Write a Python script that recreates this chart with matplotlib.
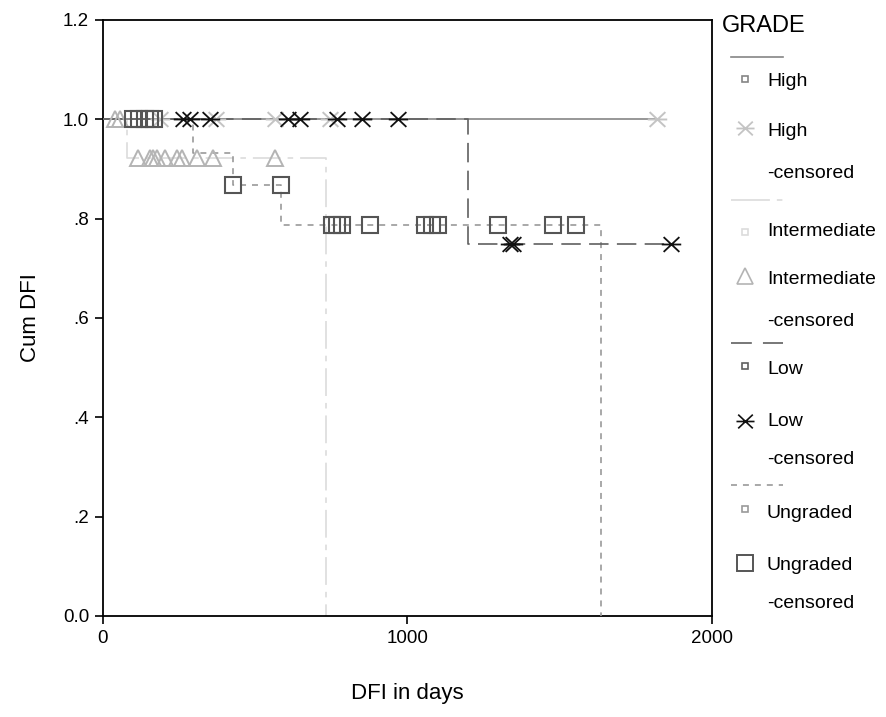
import numpy as np
import matplotlib
matplotlib.use("Agg")
import matplotlib.pyplot as plt
from matplotlib.path import Path

plt.rcParams['font.family'] = ['Liberation Sans', 'DejaVu Sans']
plt.rcParams['lines.scale_dashes'] = False

# ---- data (days, cumulative DFI) ----
groups = ['High', 'Intermediate', 'Low', 'Ungraded']

high_t = [0, 1820]
high_s = [1.0, 1.0]
high_cens_t = [188, 370, 566, 747, 1820]
high_cens_s = [1.0, 1.0, 1.0, 1.0, 1.0]

inter_t = [0, 79, 733, 733]
inter_s = [1.0, 0.923, 0.0, 0.0]
inter_cens_t = [40, 55, 115, 155, 164, 178, 204, 243, 260, 309, 362, 566]
inter_cens_s = [1.0, 1.0, 0.923, 0.923, 0.923, 0.923, 0.923, 0.923, 0.923,
                0.923, 0.923, 0.923]

low_t = [0, 1200, 1865]
low_s = [1.0, 0.75, 0.75]
low_cens_t = [263, 286, 352, 609, 648, 770, 852, 970, 1335, 1345, 1865]
low_cens_s = [1.0, 1.0, 1.0, 1.0, 1.0, 1.0, 1.0, 1.0, 0.75, 0.75, 0.75]

ungr_t = [0, 296, 428, 585, 1635, 1635]
ungr_s = [1.0, 0.933, 0.867, 0.788, 0.0, 0.0]
ungr_cens_t = [99, 118, 138, 155, 168, 428, 585, 753, 770, 786, 878,
               1059, 1082, 1099, 1296, 1477, 1553]
ungr_cens_s = [1.0, 1.0, 1.0, 1.0, 1.0, 0.867, 0.867, 0.788, 0.788, 0.788,
               0.788, 0.788, 0.788, 0.788, 0.788, 0.788, 0.788]

y_ticks = [0.0, 0.2, 0.4, 0.6, 0.8, 1.0, 1.2]
y_labels = ['0.0', '.2', '.4', '.6', '.8', '1.0', '1.2']
x_ticks = [0, 1000, 2000]

# ---- styles ----
c_high, c_high_m = '#858585', '#c4c4c4'
c_int, c_int_m = '#dcdcdc', '#b4b4b4'
c_low, c_low_m = '#606060', '#111111'
c_ung, c_ung_m = '#9a9a9a', '#555555'

# X with a horizontal bar (SPSS censor mark)
star = Path([(-0.85, -0.8), (0.85, 0.8), (-0.85, 0.8), (0.85, -0.8), (-1.05, 0), (1.05, 0)],
            [Path.MOVETO, Path.LINETO, Path.MOVETO, Path.LINETO, Path.MOVETO, Path.LINETO])

fig = plt.figure(figsize=(8.87, 7.17), dpi=100)
ax = fig.add_axes([103/887, 1-616/717, (712-103)/887, (616-20)/717])

lw = 1.2
ax.step(inter_t, inter_s, where='post', color=c_int, lw=lw, dashes=(20, 5, 4, 5), zorder=2)
ax.step(ungr_t, ungr_s, where='post', color=c_ung, lw=lw, dashes=(4.3, 4.3), zorder=3)
ax.step(high_t, high_s, where='post', color=c_high, lw=lw, zorder=3)
ax.step(low_t, low_s, where='post', color=c_low, lw=lw, dashes=(14, 6), zorder=4)

ax.plot(inter_cens_t, inter_cens_s, ls='none', marker='^', ms=12, mfc='none',
        mec=c_int_m, mew=1.4, zorder=5)
ax.plot(high_cens_t, high_cens_s, ls='none', marker=star, ms=14,
        mec=c_high_m, mew=1.4, zorder=5)
ax.plot(ungr_cens_t, ungr_cens_s, ls='none', marker='s', ms=11.5, mfc='none',
        mec=c_ung_m, mew=1.5, zorder=6)
ax.plot(low_cens_t, low_cens_s, ls='none', marker=star, ms=14,
        mec=c_low_m, mew=1.3, zorder=7)

ax.set_xlim(0, 2000)
ax.set_ylim(0, 1.2)
ax.set_xticks(x_ticks)
ax.set_yticks(y_ticks)
ax.set_yticklabels(y_labels)
ax.tick_params(direction='out', length=6, width=1.2, labelsize=13.5, pad=4)
for s in ax.spines.values():
    s.set_linewidth(1.3)
ax.set_ylabel('Cum DFI', fontsize=16, labelpad=16)
ax.set_xlabel('DFI in days', fontsize=16, labelpad=26)

# ---- legend drawn in pixel space ----
lg = fig.add_axes([0, 0, 1, 1], facecolor='none')
lg.set_xlim(0, 887)
lg.set_ylim(717, 0)
lg.axis('off')

lg.text(722, 26, 'GRADE', fontsize=17, va='center', ha='left')
tx, mx = 767, 745
fs = 14

def entry(y, text):
    lg.text(tx, y, text, fontsize=fs, va='center', ha='left')

lg.plot([731, 783], [57, 57], color=c_high, lw=lw)
lg.plot([mx], [79], marker='s', ms=5, mfc='none', mec=c_high, mew=1.2)
entry(82, 'High')
lg.plot([mx], [128], marker=star, ms=13, mec=c_high_m, mew=1.3)
entry(131, 'High')
entry(173, '-censored')

lg.plot([731, 783], [200, 200], color=c_int, lw=lw, dashes=(28, 5, 4, 5))
lg.plot([mx], [232], marker='s', ms=5, mfc='none', mec=c_int, mew=1.2)
entry(232, 'Intermediate')
lg.plot([mx], [276], marker='^', ms=11, mfc='none', mec=c_int_m, mew=1.2)
entry(279, 'Intermediate')
entry(322, '-censored')

lg.plot([731, 783], [343, 343], color=c_low, lw=lw, dashes=(15, 8))
lg.plot([mx], [366], marker='s', ms=5, mfc='none', mec=c_low, mew=1.2)
entry(369, 'Low')
lg.plot([mx], [421], marker=star, ms=13, mec=c_low_m, mew=1.2)
entry(421, 'Low')
entry(459, '-censored')

lg.plot([731, 783], [485, 485], color=c_ung, lw=lw, dashes=(4.3, 4.3))
lg.plot([mx], [509], marker='s', ms=5, mfc='none', mec=c_ung, mew=1.2)
entry(514, 'Ungraded')
lg.plot([mx], [563], marker='s', ms=11, mfc='none', mec=c_ung_m, mew=1.4)
entry(565, 'Ungraded')
entry(603, '-censored')

fig.savefig('out.png', dpi=100)
